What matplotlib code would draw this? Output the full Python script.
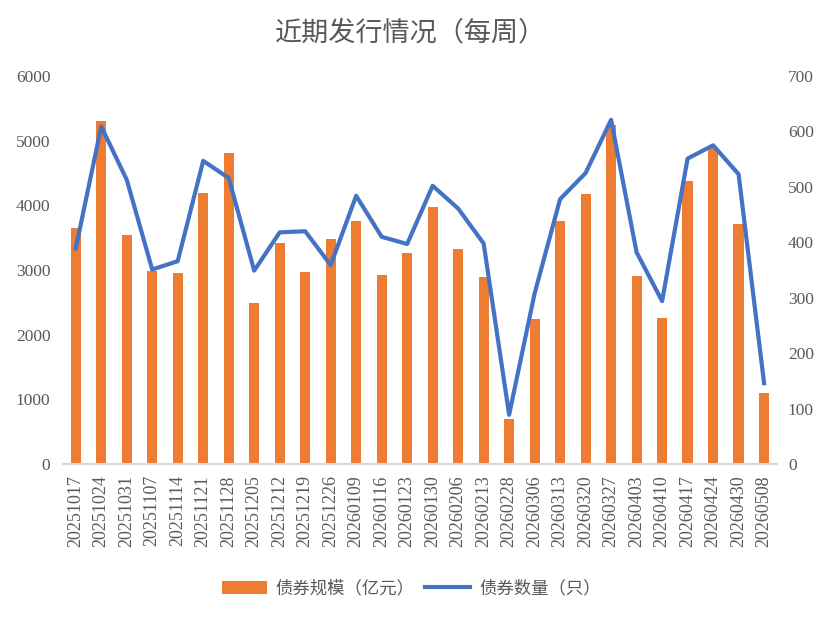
import numpy as np
import matplotlib
matplotlib.use('Agg')
import matplotlib.pyplot as plt
from matplotlib.patches import Patch
from matplotlib.lines import Line2D

# weekly data
dates = ['20251017', '20251024', '20251031', '20251107', '20251114', '20251121',
         '20251128', '20251205', '20251212', '20251219', '20251226', '20260109',
         '20260116', '20260123', '20260130', '20260206', '20260213', '20260228',
         '20260306', '20260313', '20260320', '20260327', '20260403', '20260410',
         '20260417', '20260424', '20260430', '20260508']
scale = [3650, 5300, 3545, 2990, 2955, 4190, 4810, 2495, 3420, 2975, 3480, 3760,
         2925, 3265, 3975, 3325, 2895, 690, 2245, 3760, 4175, 5240, 2910, 2260,
         4375, 4890, 3715, 1105]
count = [389, 609, 513, 351, 366, 547, 516, 349, 418, 420, 359, 484,
         410, 397, 502, 461, 398, 89, 308, 478, 525, 621, 382, 294,
         551, 575, 523, 146]

orange = '#ED7D31'
blue = '#4472C4'
grey = '#595959'
num_font = ['Liberation Serif', 'Noto Sans CJK SC']
cjk_font = ['Noto Sans CJK SC', 'DejaVu Sans']

plt.rcParams['font.family'] = num_font

fig = plt.figure(figsize=(8.31, 6.18), dpi=100)
ax1 = fig.add_axes([0.0758, 0.249, 0.859, 0.628])
ax2 = ax1.twinx()

x = np.arange(len(dates))
ax1.bar(x, scale, width=0.4, color=orange, zorder=2)
ax2.plot(x, count, color=blue, lw=3, solid_joinstyle='round', zorder=3)

ax1.set_xlim(-0.5, len(dates) - 0.5)
ax1.set_ylim(0, 6000)
ax2.set_ylim(0, 700)
ax1.set_yticks(np.arange(0, 6001, 1000))
ax2.set_yticks(np.arange(0, 701, 100))
ax1.set_xticks(x)
ax1.set_xticklabels(dates, rotation=90)

for a in (ax1, ax2):
    for s in ['top', 'left', 'right']:
        a.spines[s].set_visible(False)
    a.spines['bottom'].set_color('#D9D9D9')
    a.spines['bottom'].set_linewidth(1.5)
    a.tick_params(length=0, colors=grey, labelsize=12.5)
ax1.tick_params(axis='y', pad=9)
ax2.tick_params(axis='y', pad=8)
ax1.tick_params(axis='x', pad=8, labelsize=13)

fig.text(0.494, 0.946, '近期发行情况（每周）', ha='center', va='center',
         fontsize=19.5, color=grey, family=cjk_font)

handles = [Patch(facecolor=orange, edgecolor='none'),
           Line2D([0], [0], color=blue, lw=3)]
fig.legend(handles, ['债券规模（亿元）', '债券数量（只）'], loc='center',
           bbox_to_anchor=(0.495, 0.048), ncol=2, frameon=False,
           prop={'family': cjk_font, 'size': 12.5}, labelcolor=grey,
           handlelength=2.6, handleheight=0.75, columnspacing=0.6,
           handletextpad=0.5)

fig.savefig('out.png', dpi=100)
